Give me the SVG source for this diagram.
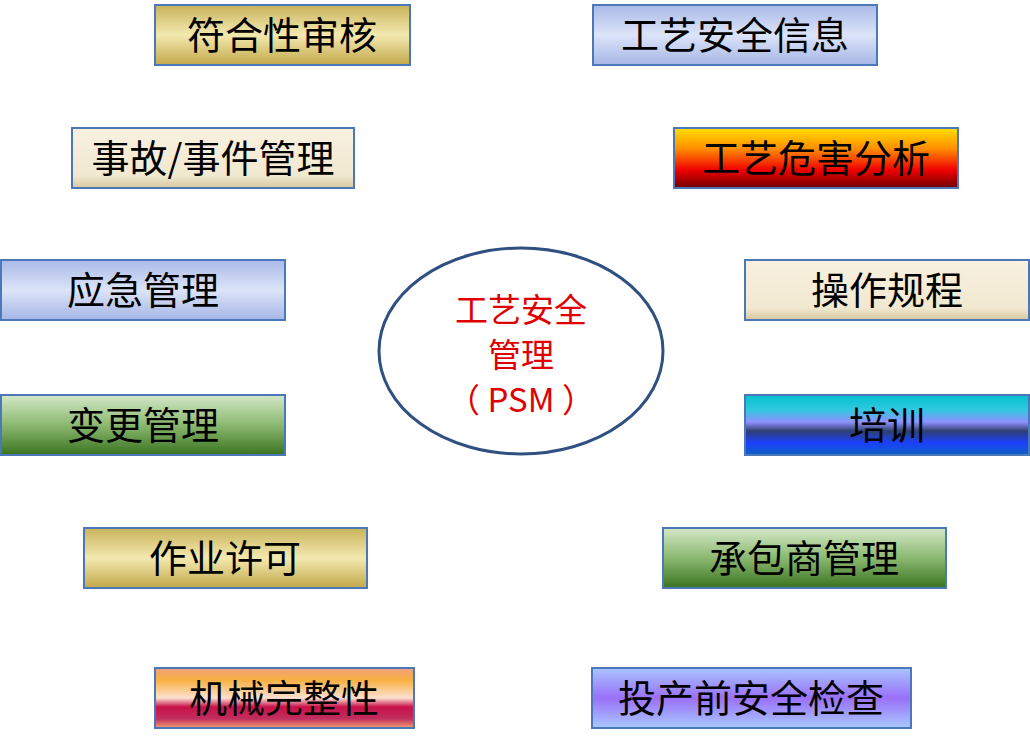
<svg xmlns="http://www.w3.org/2000/svg" width="1030" height="744" viewBox="0 0 1030 744">
<defs>
<linearGradient id="gold" x1="0" y1="0" x2="0" y2="1"><stop offset="0" stop-color="#c9b35a"/><stop offset="0.5" stop-color="#f3e9b0"/><stop offset="1" stop-color="#c2a84a"/></linearGradient>
<linearGradient id="blue" x1="0" y1="0" x2="0" y2="1"><stop offset="0" stop-color="#a9b9e8"/><stop offset="0.5" stop-color="#dce4f8"/><stop offset="1" stop-color="#a6b6e6"/></linearGradient>
<linearGradient id="beige" x1="0" y1="0" x2="0" y2="1"><stop offset="0" stop-color="#f8f1e0"/><stop offset="0.8" stop-color="#f1e8d0"/><stop offset="1" stop-color="#d8c7a0"/></linearGradient>
<linearGradient id="fire" x1="0" y1="0" x2="0" y2="1"><stop offset="0" stop-color="#ffe000"/><stop offset="0.35" stop-color="#ff8c00"/><stop offset="0.7" stop-color="#f00000"/><stop offset="1" stop-color="#700000"/></linearGradient>
<linearGradient id="green" x1="0" y1="0" x2="0" y2="1"><stop offset="0" stop-color="#d4e8c8"/><stop offset="0.5" stop-color="#8bb870"/><stop offset="1" stop-color="#3a7420"/></linearGradient>
<linearGradient id="ocean" x1="0" y1="0" x2="0" y2="1"><stop offset="0" stop-color="#05c0d0"/><stop offset="0.25" stop-color="#30c8e0"/><stop offset="0.45" stop-color="#9090ff"/><stop offset="0.6" stop-color="#304070"/><stop offset="0.8" stop-color="#1a40ff"/><stop offset="1" stop-color="#1060c0"/></linearGradient>
<linearGradient id="rainbow" x1="0" y1="0" x2="0" y2="1"><stop offset="0" stop-color="#f0a080"/><stop offset="0.2" stop-color="#f8b040"/><stop offset="0.5" stop-color="#fce0d0"/><stop offset="0.65" stop-color="#c8104a"/><stop offset="0.85" stop-color="#c03060"/><stop offset="1" stop-color="#f0a070"/></linearGradient>
<linearGradient id="purple" x1="0" y1="0" x2="0" y2="1"><stop offset="0" stop-color="#a8c4ff"/><stop offset="0.5" stop-color="#9a70f8"/><stop offset="1" stop-color="#a8c8ff"/></linearGradient>
<style>
.b{stroke:#4a78b8;stroke-width:2}
.t{font-family:"Noto Sans CJK SC","Noto Sans",sans-serif;font-size:38px;text-anchor:middle;fill:#000}
.c{font-family:"Noto Sans CJK SC","Noto Sans",sans-serif;font-size:33px;text-anchor:middle;fill:#e00000}
</style>
</defs>
<rect width="1030" height="744" fill="#fff"/>
<g id="n1"><rect class="b" x="155" y="5" width="255" height="60" fill="url(#gold)"/><text class="t" x="282" y="49">符合性审核</text></g>
<g id="n2"><rect class="b" x="593" y="5" width="284" height="60" fill="url(#blue)"/><text class="t" x="735" y="49">工艺安全信息</text></g>
<g id="n3"><rect class="b" x="72" y="128" width="282" height="60" fill="url(#beige)"/><text class="t" x="213" y="172">事故/事件管理</text></g>
<g id="n4"><rect class="b" x="674" y="128" width="284" height="60" fill="url(#fire)"/><text class="t" x="816" y="172">工艺危害分析</text></g>
<g id="n5"><rect class="b" x="1" y="260" width="284" height="60" fill="url(#blue)"/><text class="t" x="143" y="304">应急管理</text></g>
<g id="n6"><rect class="b" x="745" y="260" width="284" height="60" fill="url(#beige)"/><text class="t" x="887" y="304">操作规程</text></g>
<g id="n7"><rect class="b" x="1" y="395" width="284" height="60" fill="url(#green)"/><text class="t" x="143" y="439">变更管理</text></g>
<g id="n8"><rect class="b" x="745" y="395" width="284" height="60" fill="url(#ocean)"/><text class="t" x="887" y="439">培训</text></g>
<g id="n9"><rect class="b" x="84" y="528" width="283" height="60" fill="url(#gold)"/><text class="t" x="225" y="572">作业许可</text></g>
<g id="n10"><rect class="b" x="663" y="528" width="283" height="60" fill="url(#green)"/><text class="t" x="804" y="572">承包商管理</text></g>
<g id="n11"><rect class="b" x="155" y="668" width="259" height="60" fill="url(#rainbow)"/><text class="t" x="284" y="712">机械完整性</text></g>
<g id="n12"><rect class="b" x="592" y="668" width="319" height="60" fill="url(#purple)"/><text class="t" x="751" y="712">投产前安全检查</text></g>
<g id="center"><ellipse cx="521" cy="351" rx="142" ry="103" fill="#fff" stroke="#2f5080" stroke-width="3"/>
<text class="c" x="521" y="322">工艺安全</text><text class="c" x="521" y="367">管理</text><text class="c" x="521" y="412">（ PSM ）</text></g>
<g id="connectors"/>
</svg>
